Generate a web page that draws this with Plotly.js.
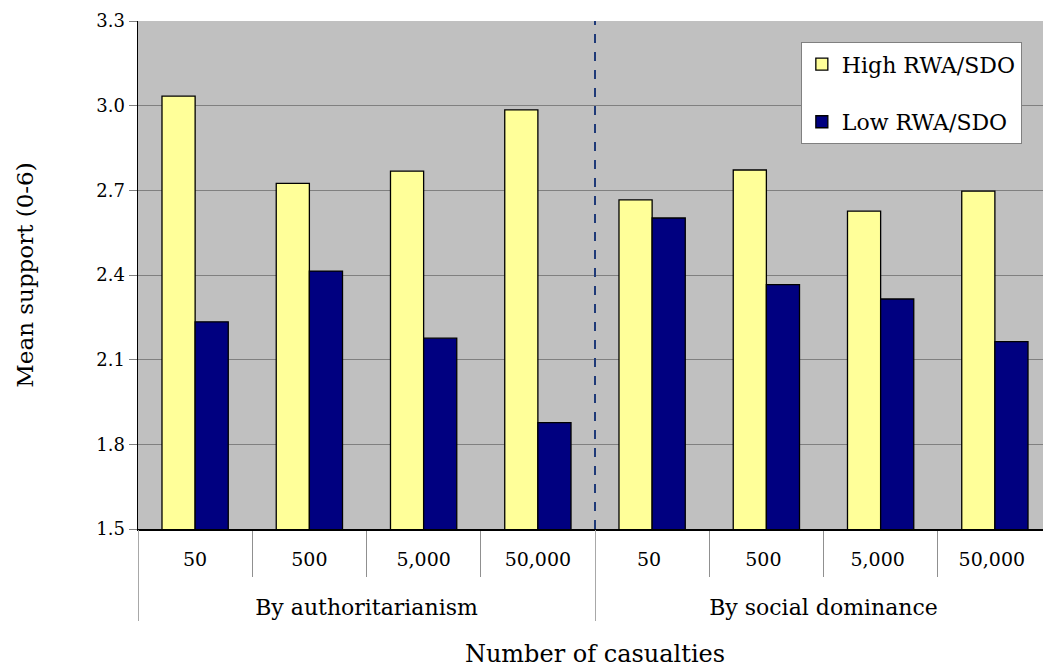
<!DOCTYPE html>
<html>
<head>
<meta charset="utf-8">
<script src="https://cdn.plot.ly/plotly-3.0.1.min.js"></script>
<style>
html,body{margin:0;padding:0;overflow:hidden;background:#fff;}
#chart{width:1058px;height:668px;}
</style>
</head>
<body>
<div id="chart"></div>
<script>
const groupNames = ["By authoritarianism","By social dominance"];
const groupCenters = [1.5, 5.5];
const groupBounds = [-0.5, 3.5, 7.5];
const casualties = ["50","500","5,000","50,000","50 ","500 ","5,000 ","50,000 "];
const highRWA = [3.034, 2.725, 2.768, 2.985, 2.666, 2.772, 2.626, 2.697];
const lowRWA  = [2.234, 2.414, 2.176, 1.877, 2.602, 2.366, 2.315, 2.164];
const yTicks = [1.5, 1.8, 2.1, 2.4, 2.7, 3.0, 3.3];

const FONT = "DejaVu Serif, serif";

const traces = [
  {type:"bar", name:"High RWA/SDO", x:casualties, y:highRWA,
   marker:{color:"#FFFF99", line:{color:"#000000", width:1.3}}, legendgroup:"a"},
  {type:"bar", name:"Low RWA/SDO", x:casualties, y:lowRWA,
   marker:{color:"#000080", line:{color:"#000000", width:1.3}}, legendgroup:"b"},
  {type:"scatter", mode:"markers", x:groupCenters, y:[1.5,1.5], xaxis:"x2",
   marker:{opacity:0, size:1}, showlegend:false, hoverinfo:"skip"}
];

const layout = {
  width:1058, height:668,
  margin:{l:138, r:6, t:21, b:139},
  paper_bgcolor:"#ffffff",
  plot_bgcolor:"#C0C0C0",
  barmode:"group",
  bargap:0.42,
  bargroupgap:0,
  font:{family:FONT, color:"#000", size:16},
  showlegend:true,
  legend:{x:0.967, xanchor:"right", y:0.958, yanchor:"top",
          bgcolor:"#ffffff", bordercolor:"#808080", borderwidth:1,
          font:{family:FONT, size:22}, tracegroupgap:26, traceorder:"grouped"},
  xaxis:{type:"category", range:[-0.5,7.5], showline:true, linecolor:"#000", linewidth:1.5,
         ticks:"outside", tickson:"boundaries", ticklen:46, tickcolor:"#909090", tickwidth:1,
         tickfont:{family:FONT, size:19}, showgrid:false, ticklabelstandoff:13},
  xaxis2:{type:"linear", overlaying:"x", anchor:"y", side:"bottom", range:[-0.5,7.5],
          tickmode:"array", tickvals:groupCenters, ticktext:groupNames, ticks:"",
          showline:false, showgrid:false, zeroline:false,
          tickfont:{family:FONT, size:22}, ticklabelstandoff:63,
          minor:{tickmode:"array", tickvals:groupBounds, ticks:"outside", ticklen:91,
                 tickcolor:"#A8A8A8", tickwidth:1, showgrid:false},
          title:{text:"Number of casualties", font:{family:FONT, size:24}, standoff:26}},
  yaxis:{range:[1.5,3.3], tickvals:yTicks, ticktext:yTicks.map(v=>v.toFixed(1)),
         showline:true, linecolor:"#000", linewidth:1.5, ticks:"outside", ticklen:8, tickcolor:"#808080",
         gridcolor:"#808080", gridwidth:1, zeroline:false,
         tickfont:{family:FONT, size:18},
         title:{text:"Mean support (0-6)", font:{family:FONT, size:23}, standoff:56}},
  shapes:[{type:"line", xref:"x", yref:"paper", x0:3.5, x1:3.5, y0:0, y1:1,
           line:{color:"#1F3A78", width:2, dash:"dash"}}]
};

Plotly.newPlot("chart", traces, layout, {displayModeBar:false, staticPlot:true});
</script>
</body>
</html>
